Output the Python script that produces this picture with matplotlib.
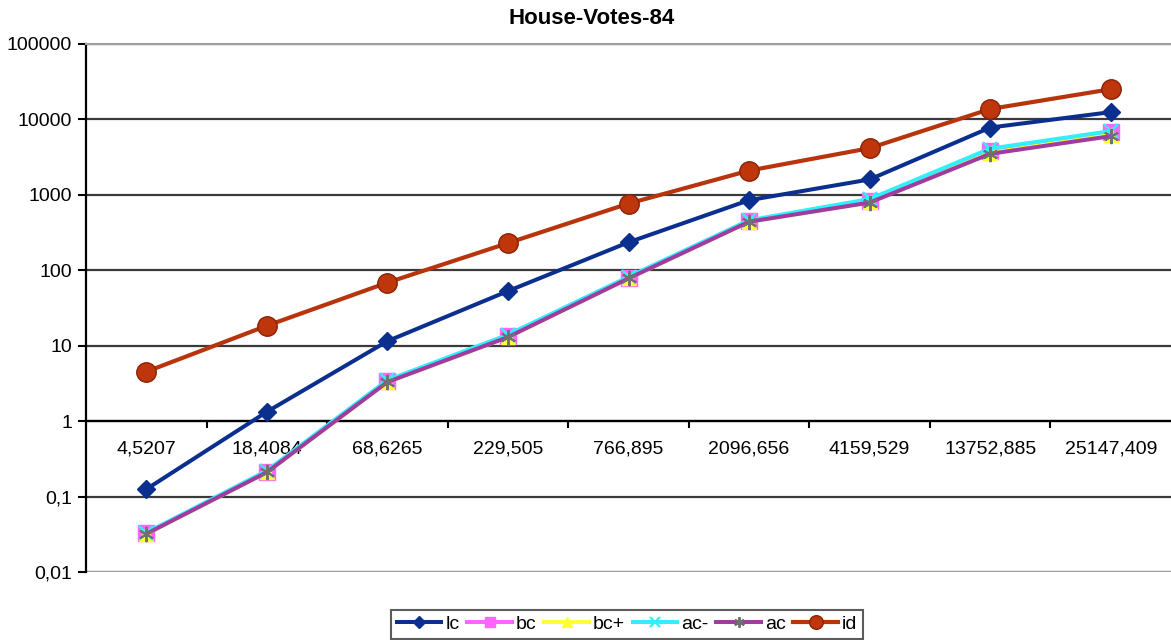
import matplotlib.pyplot as plt
from matplotlib.ticker import FixedLocator, FuncFormatter, NullFormatter

plt.rcParams['font.family'] = ['Liberation Sans', 'DejaVu Sans']

# category labels (decimal comma) and series values
categories = ["4,5207", "18,4084", "68,6265", "229,505", "766,895",
              "2096,656", "4159,529", "13752,885", "25147,409"]

lc = [0.125, 1.33, 11.5, 53, 235, 850, 1600, 7800, 12500]
bc = [0.033, 0.21, 3.4, 13.5, 80, 450, 830, 3800, 6800]
bc_plus = [0.032, 0.21, 3.3, 13, 78, 440, 800, 3600, 6300]
ac_minus = [0.033, 0.22, 3.5, 14, 82, 460, 880, 4100, 7000]
ac = [0.032, 0.21, 3.3, 13, 78, 440, 790, 3500, 6000]
id_ = [4.5207, 18.4084, 68.6265, 229.505, 766.895,
       2096.656, 4159.529, 13752.885, 25147.409]

x = list(range(len(categories)))

fig = plt.figure(figsize=(11.71, 6.40), dpi=100)
ax = fig.add_axes([86 / 1171, 1 - 572 / 640, 1 - 86 / 1171, (572 - 44) / 640])

ax.plot(x, lc, color='#0b2f8f', lw=2.9, marker='D', ms=9,
        mfc='#0b2f8f', mec='#0b2f8f', label='lc', zorder=4)
ax.plot(x, bc, color='#ff66ff', lw=2.9, marker='s', ms=11,
        mfc='#ff66ff', mec='#ff66ff', label='bc', zorder=3)
ax.plot(x, bc_plus, color='#ffff33', lw=2.9, marker='^', ms=10,
        mfc='#ffff33', mec='#ffff33', label='bc+', zorder=3)
ax.plot(x, ac_minus, color='#33eeff', lw=2.9, marker='x', ms=10, mew=1.6,
        label='ac-', zorder=3)
ax.plot(x, ac, color='#a03ca0', lw=2.9, marker=(6, 2, 0), ms=11, mew=1.4,
        mec='#707070', label='ac', zorder=3)
ax.plot(x, id_, color='#b8340c', lw=3.0, marker='o', ms=14,
        mfc='#c0360c', mec='#8a2204', mew=1, label='id', zorder=5)

ax.set_yscale('log')
ax.set_ylim(0.01, 100000)
ax.set_xlim(-0.5, len(categories) - 0.5)

yticks = [0.01, 0.1, 1, 10, 100, 1000, 10000, 100000]
ax.yaxis.set_major_locator(FixedLocator(yticks))
ax.yaxis.set_minor_locator(FixedLocator([]))
ax.yaxis.set_major_formatter(FuncFormatter(
    lambda v, p: ('%g' % v).replace('.', ',')))
ax.tick_params(axis='y', labelsize=14, length=6, width=1.5, pad=4,
               color='black')

# category axis crosses the value axis at 1
ax.spines['bottom'].set_position(('data', 1))
ax.spines['bottom'].set_linewidth(1.6)
ax.spines['left'].set_linewidth(1.6)
ax.spines['right'].set_visible(False)
ax.spines['top'].set_color('#a0a0a0')
ax.spines['top'].set_linewidth(1.5)
ax.axhline(0.01, color='#a0a0a0', lw=1.5, zorder=2.5)

ax.set_xticks(x)
ax.set_xticklabels(categories)
ax.set_xticks([i + 0.5 for i in x[:-1]], minor=True)
ax.xaxis.set_minor_formatter(NullFormatter())
ax.tick_params(axis='x', which='major', length=0, labelsize=14, pad=14)
ax.tick_params(axis='x', which='minor', length=5, width=1.5, direction='out')

ax.yaxis.grid(True, color='#3a3a3a', lw=1.6)
ax.set_axisbelow(True)

fig.text(0.505, 1 - 18 / 640, 'House-Votes-84', ha='center', va='center',
         fontsize=16, fontweight='bold')

leg = fig.legend(loc='upper center', bbox_to_anchor=(0.5355, 1 - 600 / 640),
                 ncol=6, fontsize=14, frameon=True, fancybox=False,
                 edgecolor='#333333', handlelength=2.3, handletextpad=0.2,
                 columnspacing=0.4, borderpad=0.3, markerscale=0.7)
leg.get_frame().set_linewidth(1.5)

fig.savefig('out.png', dpi=100)
